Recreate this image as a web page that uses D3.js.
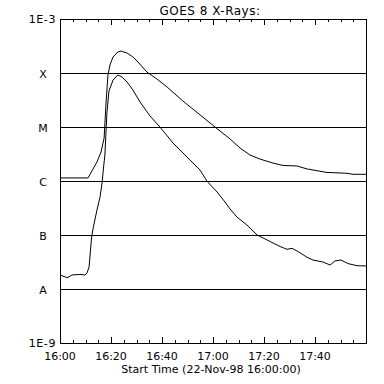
<!DOCTYPE html>
<html>
<head>
<meta charset="utf-8">
<script src="https://cdn.jsdelivr.net/npm/d3@7"></script>
<style>
body{margin:0;background:#fff;}
text{font-family:"DejaVu Sans",sans-serif;fill:#000;}
</style>
</head>
<body>
<svg id="chart" width="384" height="384"></svg>
<script>
// minutes after 16:00 and flux (W/m^2)
const longMin = [0,11.0,12.5,14.5,16.1,17.3,18.0,18.8,19.6,20.8,22.7,23.9,26.3,28.6,30.2,34.1,38.0,42.0,48.2,54.5,60.8,66.7,70.6,74.5,78.4,83.5,87.5,92.9,96.9,104.7,112.5,114.9,120];
const longFlux = [1.14e-6,1.14e-6,1.53e-6,2.25e-6,3.44e-6,6.25e-6,2.55e-5,9.2e-5,1.41e-4,1.98e-4,2.45e-4,2.55e-4,2.34e-4,1.98e-4,1.67e-4,1.04e-4,7.74e-5,5.5e-5,3.03e-5,1.74e-5,1.0e-5,6.0e-6,4.08e-6,3.03e-6,2.55e-6,2.15e-6,1.94e-6,1.90e-6,1.67e-6,1.44e-6,1.39e-6,1.33e-6,1.33e-6];

const shortMin = [0,2.0,3.1,4.7,7.8,9.8,10.6,11.4,12.4,13.1,14.5,15.7,16.5,17.1,17.6,18.4,19.2,20.8,22.7,24.3,26.3,28.6,31.4,35.3,39.2,44.3,51.0,54.9,57.6,61.6,64.7,66.7,69.4,73.3,77.3,82.4,86.3,89.0,91.0,93.3,96.9,99.2,103.1,105.9,107.8,110.2,112.9,116.5,120];
const shortFlux = [1.82e-8,1.67e-8,1.63e-8,1.82e-8,1.86e-8,1.82e-8,1.98e-8,2.55e-8,9.2e-8,1.41e-7,2.9e-7,5.06e-7,9.2e-7,1.82e-6,3.03e-6,1.82e-5,4.64e-5,7.42e-5,9.19e-5,8.43e-5,6.81e-5,4.84e-5,2.9e-5,1.6e-5,1.0e-5,5.06e-6,2.45e-6,1.6e-6,1.0e-6,6.25e-7,4.08e-7,3.03e-7,2.15e-7,1.53e-7,1.0e-7,7.58e-8,6.12e-8,5.43e-8,5.67e-8,4.95e-8,3.86e-8,3.44e-8,3.16e-8,2.78e-8,3.3e-8,3.44e-8,2.96e-8,2.7e-8,2.67e-8];

const classLevels = [1e-8,1e-7,1e-6,1e-5,1e-4];
const classLabels = ["A","B","C","M","X"];
const edgeLabels = ["1E-9","1E-3"];
const tickLabels = ["16:00","16:20","16:40","17:00","17:20","17:40"];

const startTime = new Date(1998,10,22,16,0,0);
const endTime = new Date(1998,10,22,18,0,0);

const plotL=60, plotR=366, plotT=19, plotB=343;
const svg = d3.select("#chart");

let x = d3.scaleTime().domain([startTime,endTime]).range([plotL,plotR]);
let y = d3.scaleLog().domain([1e-9,1e-3]).range([plotB,plotT]);

function toDate(m){ return new Date(startTime.getTime()+m*60*1000); }

// title
svg.append("text")
    .attr("x",210).attr("y",15)
    .attr("text-anchor","middle")
    .style("font-size","12px")
    .style("letter-spacing","0.5px")
    .text("GOES 8 X-Rays:");

// class lines
svg.append("g").selectAll("line")
    .data(classLevels).enter()
    .append("line")
    .attr("x1",plotL).attr("x2",plotR)
    .attr("y1",d=>Math.round(y(d))+0.5).attr("y2",d=>Math.round(y(d))+0.5)
    .style("stroke","#000").style("stroke-width",1)
    .attr("shape-rendering","crispEdges");

svg.append("g").selectAll("text")
    .data(classLevels).enter()
    .append("text")
    .attr("x",43).attr("y",d=>y(d)+5)
    .attr("text-anchor","middle")
    .style("font-size","11px")
    .text((d,i)=>classLabels[i]);

svg.append("g").selectAll("text")
    .data([1e-9,1e-3]).enter()
    .append("text")
    .attr("x",56).attr("y",d=>y(d)+4)
    .attr("text-anchor","end")
    .style("font-size","11px")
    .style("letter-spacing","0.6px")
    .text((d,i)=>edgeLabels[i]);

// frame
svg.append("rect")
    .attr("x",plotL+0.5).attr("y",plotT+0.5)
    .attr("width",plotR-plotL).attr("height",plotB-plotT)
    .style("fill","none").style("stroke","#000")
    .attr("shape-rendering","crispEdges");

// time ticks, top and bottom, pointing inward
let minorTicks = x.ticks(d3.timeMinute.every(5));
let majorTicks = x.ticks(d3.timeMinute.every(20));
let tickG = svg.append("g").attr("shape-rendering","crispEdges");
minorTicks.forEach(t=>{
    let major = t.getMinutes()%20==0;
    let len = major ? 6 : 3;
    let px = Math.round(x(t))+0.5;
    tickG.append("line").attr("x1",px).attr("x2",px).attr("y1",plotB).attr("y2",plotB-len).style("stroke","#000");
    tickG.append("line").attr("x1",px).attr("x2",px).attr("y1",plotT).attr("y2",plotT+len).style("stroke","#000");
});

svg.append("g").selectAll("text")
    .data(majorTicks.slice(0,tickLabels.length)).enter()
    .append("text")
    .attr("x",d=>x(d)).attr("y",360)
    .attr("text-anchor","middle")
    .style("font-size","11px")
    .text((d,i)=>tickLabels[i]);

svg.append("text")
    .attr("x",211).attr("y",373)
    .attr("text-anchor","middle")
    .style("font-size","11px")
    .text("Start Time (22-Nov-98 16:00:00)");

// flux curves
let line = d3.line()
    .x(d=>x(toDate(d[0])))
    .y(d=>y(d[1]));

let series = [d3.zip(longMin,longFlux), d3.zip(shortMin,shortFlux)];
svg.append("g").selectAll("path")
    .data(series).enter()
    .append("path")
    .attr("d",line)
    .style("fill","none")
    .style("stroke","#000")
    .style("stroke-width",1);
</script>
</body>
</html>
